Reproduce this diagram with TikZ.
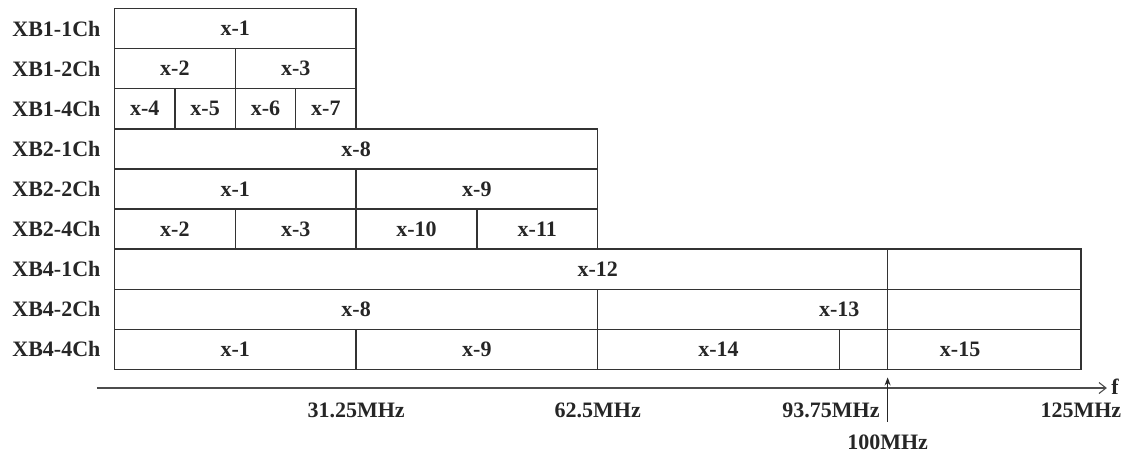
\documentclass[tikz,border=0pt]{standalone}
\usepackage{fontspec}
\setmainfont{Liberation Serif}
\usepackage{tikz}
\usetikzlibrary{arrows.meta}

\tikzset{
  cell/.style={draw=black!80, line width=1.4pt},
  lbl/.style={font=\fontsize{22}{26}\selectfont\bfseries, text=black!85, inner sep=0pt},
  faxis/.style={draw=black!70, line width=1.1pt, -{Straight Barb[length=7pt,width=11pt]}},
  mark100/.style={draw=black!85, line width=1.1pt, -{Stealth[length=8pt,width=6pt]}}
}

\begin{document}
\begin{tikzpicture}[x=60.4pt,y=-40.1pt]
\useasboundingbox (-1.8957,-0.2120) rectangle (16.8295,11.0599);

\draw[cell] (0,0) rectangle (4,1);
\node[lbl] (a1) at (2,0.5) {x-1};

\draw[cell] (0,1) rectangle (2,2);
\node[lbl] (b1) at (1,1.5) {x-2};
\draw[cell] (2,1) rectangle (4,2);
\node[lbl] (b2) at (3,1.5) {x-3};

\draw[cell] (0,2) rectangle (1,3);
\node[lbl] (c1) at (0.5,2.5) {x-4};
\draw[cell] (1,2) rectangle (2,3);
\node[lbl] (c2) at (1.5,2.5) {x-5};
\draw[cell] (2,2) rectangle (3,3);
\node[lbl] (c3) at (2.5,2.5) {x-6};
\draw[cell] (3,2) rectangle (4,3);
\node[lbl] (c4) at (3.5,2.5) {x-7};

\draw[cell] (0,3) rectangle (8,4);
\node[lbl] (d1) at (4,3.5) {x-8};

\draw[cell] (0,4) rectangle (4,5);
\node[lbl] (e1) at (2,4.5) {x-1};
\draw[cell] (4,4) rectangle (8,5);
\node[lbl] (e2) at (6,4.5) {x-9};

\draw[cell] (0,5) rectangle (2,6);
\node[lbl] (g1) at (1,5.5) {x-2};
\draw[cell] (2,5) rectangle (4,6);
\node[lbl] (g2) at (3,5.5) {x-3};
\draw[cell] (4,5) rectangle (6,6);
\node[lbl] (g3) at (5,5.5) {x-10};
\draw[cell] (6,5) rectangle (8,6);
\node[lbl] (g4) at (7,5.5) {x-11};

\draw[cell] (0,6) rectangle (16,7);
\node[lbl] (h1) at (8,6.5) {x-12};

\draw[cell] (0,7) rectangle (8,8);
\node[lbl] (i1) at (4,7.5) {x-8};
\draw[cell] (8,7) rectangle (16,8);
\node[lbl] (i2) at (12,7.5) {x-13};

\draw[cell] (0,8) rectangle (4,9);
\node[lbl] (j1) at (2,8.5) {x-1};
\draw[cell] (4,8) rectangle (8,9);
\node[lbl] (j2) at (6,8.5) {x-9};
\draw[cell] (8,8) rectangle (12,9);
\node[lbl] (j3) at (10,8.5) {x-14};
\draw[cell] (12,8) rectangle (16,9);
\node[lbl] (j4) at (14,8.5) {x-15};

    \draw[cell] (12.8,6) -- (12.8,9);

\node[lbl, anchor=east] (r1) at (-0.23,0.5) {XB1-1Ch};
\node[lbl, anchor=east] (r2) at (-0.23,1.5) {XB1-2Ch};
\node[lbl, anchor=east] (r3) at (-0.23,2.5) {XB1-4Ch};
\node[lbl, anchor=east] (r4) at (-0.23,3.5) {XB2-1Ch};
\node[lbl, anchor=east] (r5) at (-0.23,4.5) {XB2-2Ch};
\node[lbl, anchor=east] (r6) at (-0.23,5.5) {XB2-4Ch};
\node[lbl, anchor=east] (r7) at (-0.23,6.5) {XB4-1Ch};
\node[lbl, anchor=east] (r8) at (-0.23,7.5) {XB4-2Ch};
\node[lbl, anchor=east] (r9) at (-0.23,8.5) {XB4-4Ch};

\coordinate (axL) at (-0.29,9.464);
\coordinate (axR) at (16.43,9.464);
\draw[faxis] (axL) -- (axR);
\node[lbl, anchor=west] (f) at (16.5,9.44) {f};

\node[lbl] (f31) at (4,10.01) {31.25MHz};
\node[lbl] (f62) at (8,10.01) {62.5MHz};
\node[lbl, anchor=east] (f93) at (12.67,10.01) {93.75MHz};
\node[lbl] (f125) at (16,10.01) {125MHz};

\coordinate (m100) at (12.8,10.31);
\coordinate (m100t) at (12.8,9.2);
\draw[mark100] (m100) -- (m100t);
\node[lbl] (f100) at (12.8,10.81) {100MHz};

	\end{tikzpicture}
\end{document}
